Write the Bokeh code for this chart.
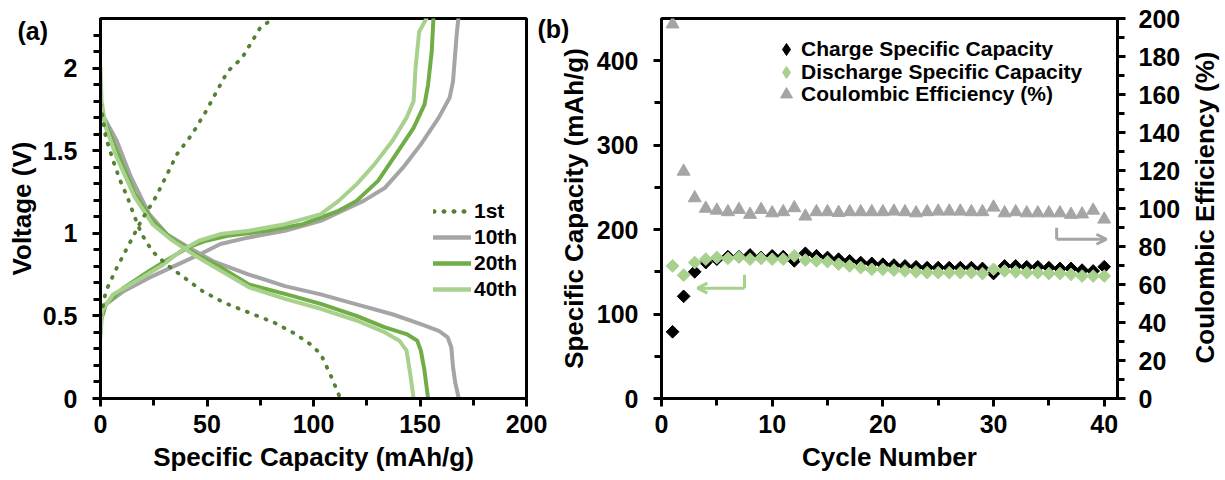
import math
from bokeh.plotting import figure
from bokeh.layouts import column
from bokeh.models import (Range1d, LinearAxis, FixedTicker, Legend, LegendItem,
                          Label, Arrow, OpenHead, GridBox)
from bokeh.embed import file_html
from bokeh.resources import INLINE

FONT = "Liberation Sans"

# ---------------- Panel (a) data: voltage profiles ----------------
cap_1st_chg = [0, 1, 2.5, 7.6, 19.3, 26, 36, 43, 49.6, 54.6, 59.7, 66.4, 74.8, 79.8]
v_1st_chg = [0.50, 0.55, 0.65, 0.79, 1.08, 1.22, 1.48, 1.60, 1.74, 1.86, 1.98, 2.06, 2.24, 2.29]
cap_1st_dis = [0, 0.8, 2.5, 5.9, 9.2, 12.6, 16, 19.3, 24.4, 31.1, 39.5, 47.9, 58, 69.7,
               81.5, 91.6, 98.3, 103.4, 108.4, 112.6]
v_1st_dis = [1.78, 1.72, 1.58, 1.44, 1.32, 1.22, 1.10, 0.995, 0.89, 0.81, 0.73, 0.65, 0.58,
             0.52, 0.46, 0.39, 0.33, 0.27, 0.13, 0.0]

cap_10_dis = [0, 7.6, 14.3, 22.7, 31.1, 41.2, 53, 69.7, 86.6, 103.4, 120.2, 137, 150.4,
              158.8, 163, 164.7, 165.5, 166.5, 168.2]
v_10_dis = [1.74, 1.56, 1.34, 1.12, 0.995, 0.915, 0.83, 0.75, 0.68, 0.63, 0.57, 0.51, 0.45,
            0.41, 0.37, 0.31, 0.19, 0.10, 0.0]
cap_10_chg = [0, 2.5, 10.9, 22.7, 36.1, 46.2, 56.3, 69.7, 86.6, 103.4, 113.4, 123.5, 133.6,
              142, 150.4, 158.8, 163.9, 165.5, 167.2, 168]
v_10_chg = [0.46, 0.57, 0.65, 0.73, 0.81, 0.87, 0.935, 0.975, 1.015, 1.075, 1.135, 1.196,
            1.276, 1.397, 1.538, 1.70, 1.82, 1.92, 2.20, 2.30]

cap_20_dis = [0, 7.6, 16, 24.4, 32.8, 44.5, 56.3, 69.7, 86.6, 103.4, 120.2, 133.6, 143.7,
              148.7, 150.4, 152.1, 153.8]
v_20_dis = [1.74, 1.50, 1.24, 1.075, 0.975, 0.875, 0.794, 0.69, 0.633, 0.573, 0.50, 0.43,
            0.39, 0.35, 0.29, 0.17, 0.0]
cap_20_chg = [0, 2.5, 10.9, 22.7, 32.8, 41.2, 49.6, 59.7, 78, 95, 111.8, 120.2, 130.3, 138.7,
              147, 152.1, 153.8, 155.5, 156.3]
v_20_chg = [0.47, 0.57, 0.67, 0.77, 0.85, 0.915, 0.955, 0.985, 1.015, 1.055, 1.136, 1.196,
            1.317, 1.477, 1.638, 1.779, 1.90, 2.10, 2.30]

cap_40_dis = [0, 0.5, 2.5, 7.6, 16, 24.4, 32.8, 44.5, 56.3, 69.7, 86.6, 103.4, 120.2, 133.6,
              140.3, 143.7, 145.4, 147]
v_40_dis = [2.0, 1.80, 1.64, 1.46, 1.22, 1.055, 0.965, 0.864, 0.774, 0.673, 0.603, 0.543,
            0.472, 0.40, 0.35, 0.29, 0.15, 0.0]
cap_40_chg = [0, 0.8, 5.9, 19.3, 29.4, 37.8, 46.2, 56.3, 69.7, 86.6, 103.4, 111.8, 120.2,
              128.6, 137, 143.7, 147, 147.9, 149.6, 153]
v_40_chg = [0.37, 0.53, 0.63, 0.73, 0.81, 0.894, 0.955, 0.995, 1.015, 1.055, 1.116, 1.196,
            1.296, 1.417, 1.558, 1.70, 1.80, 2.0, 2.22, 2.30]

a_xticks = [0, 50, 100, 150, 200]
a_yticks = [0, 0.5, 1, 1.5, 2]
a_ytick_labels = ["0", "0.5", "1", "1.5", "2"]

# ---------------- Panel (b) data: cycling ----------------
cycles = list(range(1, 41))
charge_cap = [79, 121, 150, 161, 165, 168, 168, 170, 167, 169, 168, 163, 172, 169, 167, 165,
              163, 161, 160, 159, 158, 157, 156, 155, 155, 155, 155, 155, 154, 148, 157, 157,
              156, 156, 155, 154, 154, 152, 151, 156]
discharge_cap = [157, 146, 161, 165, 167, 166, 167.5, 165, 166, 165, 165, 169, 164, 163, 162,
                 159, 157, 155, 153, 153, 152, 151, 150, 149, 149, 149, 149, 149, 148, 153,
                 151, 150, 149, 149, 148, 148, 147, 145, 145, 145]
coulombic_eff = [197, 119.5, 105.5, 100, 99, 98.2, 99.4, 96.8, 99.4, 97.6, 98.2, 100.3, 95.9,
                 98.2, 98.2, 97.8, 98.2, 98.2, 98.2, 98.2, 98.5, 98.2, 97.6, 98.2, 98.5, 98.5,
                 98.5, 98.2, 98.2, 100.6, 97.6, 98.2, 97.6, 97.6, 97.6, 97.6, 96.8, 97, 99, 94.3]

b_xticks = [0, 10, 20, 30, 40]
b_yticks = [0, 100, 200, 300, 400]
b_y2ticks = list(range(0, 201, 20))

legend_b_labels = ["Charge Specific Capacity", "Discharge Specific Capacity",
                   "Coulombic Efficiency (%)"]

DARK_GREEN = "#548235"
GRAY = "#A5A5A5"
MID_GREEN = "#70AD47"
LIGHT_GREEN = "#A9D18E"
NAN = float("nan")


def style_axis(ax, standoff, title_standoff):
    ax.axis_line_width = 3
    ax.axis_line_color = "black"
    ax.major_tick_line_width = 3
    ax.minor_tick_line_width = 3
    ax.major_tick_line_color = "black"
    ax.minor_tick_line_color = "black"
    ax.major_tick_in = 0
    ax.major_tick_out = 8
    ax.minor_tick_in = 0
    ax.minor_tick_out = 7
    ax.major_label_text_font = FONT
    ax.major_label_text_font_style = "bold"
    ax.major_label_text_font_size = "25px"
    ax.major_label_text_color = "black"
    ax.major_label_standoff = standoff
    ax.axis_label_text_font = FONT
    ax.axis_label_text_font_style = "bold"
    ax.axis_label_text_font_size = "26px"
    ax.axis_label_text_color = "black"
    ax.axis_label_standoff = title_standoff


def base_style(p):
    p.xgrid.visible = False
    p.ygrid.visible = False
    p.outline_line_color = "black"
    p.outline_line_width = 3
    p.outline_line_alpha = 1
    p.border_fill_alpha = 0


# ---------------- Panel (a) ----------------
pa = figure(width=549, height=480, x_range=Range1d(0, 200), y_range=Range1d(0, 2.3),
            output_backend="svg", toolbar_location=None,
            min_border_left=100, min_border_right=23, min_border_top=18, min_border_bottom=81)
base_style(pa)
pa.xaxis.ticker = FixedTicker(ticks=a_xticks, minor_ticks=[25, 75, 125, 175])
pa.yaxis.ticker = FixedTicker(ticks=a_yticks,
                              minor_ticks=[round(0.1 * i, 1) for i in range(1, 23)])
pa.yaxis.major_label_overrides = {t: s for t, s in zip(a_yticks, a_ytick_labels)}
pa.xaxis.axis_label = "Specific Capacity (mAh/g)"
pa.yaxis.axis_label = "Voltage (V)"
style_axis(pa.xaxis[0], 8, 6)
style_axis(pa.yaxis[0], 15, 3)

kw = dict(line_width=4, line_cap="round", line_join="round")
r10d = pa.line(cap_10_dis, v_10_dis, line_color=GRAY, **kw)
r10c = pa.line(cap_10_chg, v_10_chg, line_color=GRAY, **kw)
r20d = pa.line(cap_20_dis, v_20_dis, line_color=MID_GREEN, **kw)
r20c = pa.line(cap_20_chg, v_20_chg, line_color=MID_GREEN, **kw)
r40d = pa.line(cap_40_dis, v_40_dis, line_color=LIGHT_GREEN, **kw)
r40c = pa.line(cap_40_chg, v_40_chg, line_color=LIGHT_GREEN, **kw)
r1d = pa.line(cap_1st_dis, v_1st_dis, line_color=DARK_GREEN, line_width=3.8,
              line_dash="1 9", line_cap="round")
r1c = pa.line(cap_1st_chg, v_1st_chg, line_color=DARK_GREEN, line_width=3.8,
              line_dash="1 9", line_cap="round")

leg_a = Legend(items=[LegendItem(label="1st", renderers=[r1d, r1c]),
                      LegendItem(label="10th", renderers=[r10d, r10c]),
                      LegendItem(label="20th", renderers=[r20d, r20c]),
                      LegendItem(label="40th", renderers=[r40d, r40c])],
               location=(333, 96), orientation="vertical", glyph_width=38, glyph_height=26,
               label_height=26, spacing=0, padding=0, margin=0, label_standoff=3,
               border_line_color=None, background_fill_alpha=0,
               label_text_font=FONT, label_text_font_style="bold",
               label_text_font_size="21px", label_text_color="black")
pa.add_layout(leg_a)

# ---------------- Panel (b) ----------------
pb = figure(width=676, height=480, x_range=Range1d(0, 41.2), y_range=Range1d(0, 450),
            output_backend="svg", toolbar_location=None,
            min_border_left=112, min_border_right=108, min_border_top=17, min_border_bottom=82)
base_style(pb)
pb.extra_y_ranges = {"ce": Range1d(0, 200)}

pb.xaxis.ticker = FixedTicker(ticks=b_xticks, minor_ticks=[5, 15, 25, 35])
pb.yaxis.ticker = FixedTicker(ticks=b_yticks, minor_ticks=[50, 150, 250, 350])
pb.xaxis.axis_label = "Cycle Number"
pb.yaxis.axis_label = "Specific Capacity (mAh/g)"
style_axis(pb.xaxis[0], 8, 6)
style_axis(pb.yaxis[0], 15, 5)

ax_r = LinearAxis(y_range_name="ce")
ax_r.ticker = FixedTicker(ticks=b_y2ticks, minor_ticks=list(range(10, 200, 20)))
style_axis(ax_r, 13, 7)
pb.add_layout(ax_r, "right")

rce = pb.scatter(cycles, coulombic_eff, y_range_name="ce", marker="triangle", size=13,
                 fill_color=GRAY, line_color=GRAY)
rch = pb.scatter(cycles, charge_cap, marker="square", angle=math.pi / 4, size=9,
                 fill_color="black", line_color="black")
rdis = pb.scatter(cycles, discharge_cap, marker="square", angle=math.pi / 4, size=9,
                  fill_color=LIGHT_GREEN, line_color=LIGHT_GREEN)

# legend symbols (legend draws markers unrotated -> diamond markers, no visible points)
lg_ch = pb.scatter([NAN], [NAN], marker="diamond", fill_color="black", line_color="black")
lg_dis = pb.scatter([NAN], [NAN], marker="diamond", fill_color=LIGHT_GREEN,
                    line_color=LIGHT_GREEN)
lg_ce = pb.scatter([NAN], [NAN], marker="triangle", fill_color=GRAY, line_color=GRAY)

for lab, rend, yloc in zip(legend_b_labels, [lg_ch, lg_dis, lg_ce], [334, 311, 289]):
    pb.add_layout(Legend(items=[LegendItem(label=lab, renderers=[rend])],
                         location=(110, yloc), orientation="vertical",
                         glyph_width=30, glyph_height=30, label_height=23, spacing=0,
                         padding=0, margin=0, label_standoff=0,
                         border_line_color=None, background_fill_alpha=0,
                         label_text_font=FONT, label_text_font_style="bold",
                         label_text_font_size="21px", label_text_color="black"))

# elbow arrows pointing to the relevant axes
pb.segment(x0=[35.7], y0=[89.9], x1=[35.7], y1=[83.8], y_range_name="ce",
           line_color=GRAY, line_width=3)
pb.add_layout(Arrow(end=OpenHead(size=10, line_color=GRAY, line_width=3),
                    x_start=35.7, y_start=83.8, x_end=40.2, y_end=83.8, y_range_name="ce",
                    line_color=GRAY, line_width=3))
pb.segment(x0=[7.5], y0=[146.4], x1=[7.5], y1=[130.7], line_color=LIGHT_GREEN, line_width=3)
pb.add_layout(Arrow(end=OpenHead(size=10, line_color=LIGHT_GREEN, line_width=3),
                    x_start=7.5, y_start=130.7, x_end=3.25, y_end=130.7,
                    line_color=LIGHT_GREEN, line_width=3))

# ---------------- transparent overlay for texts outside the plot frames ----------------
ov = figure(width=1225, height=480, x_range=Range1d(0, 1225), y_range=Range1d(480, 0),
            output_backend="svg", toolbar_location=None,
            min_border_left=0, min_border_right=0, min_border_top=0, min_border_bottom=0,
            x_axis_location=None, y_axis_location=None)
ov.grid.visible = False
ov.outline_line_color = None
ov.background_fill_alpha = 0
ov.border_fill_alpha = 0

txt = dict(text_font=FONT, text_font_style="bold", text_color="black")
ov.add_layout(Label(x=17, y=30, text="(a)", text_font_size="25px", text_align="left",
                    text_baseline="middle", **txt))
ov.add_layout(Label(x=537, y=28, text="(b)", text_font_size="25px", text_align="left",
                    text_baseline="middle", **txt))
ov.add_layout(Label(x=1204, y=207, text="Coulombic Efficiency (%)", text_font_size="26px",
                    text_align="center", text_baseline="middle", angle=math.pi / 2, **txt))

layout = GridBox(children=[(pa, 0, 0), (pb, 0, 1), (column(ov), 0, 0, 1, 2)], spacing=0)
open("out.html", "w").write(file_html(layout, INLINE))
